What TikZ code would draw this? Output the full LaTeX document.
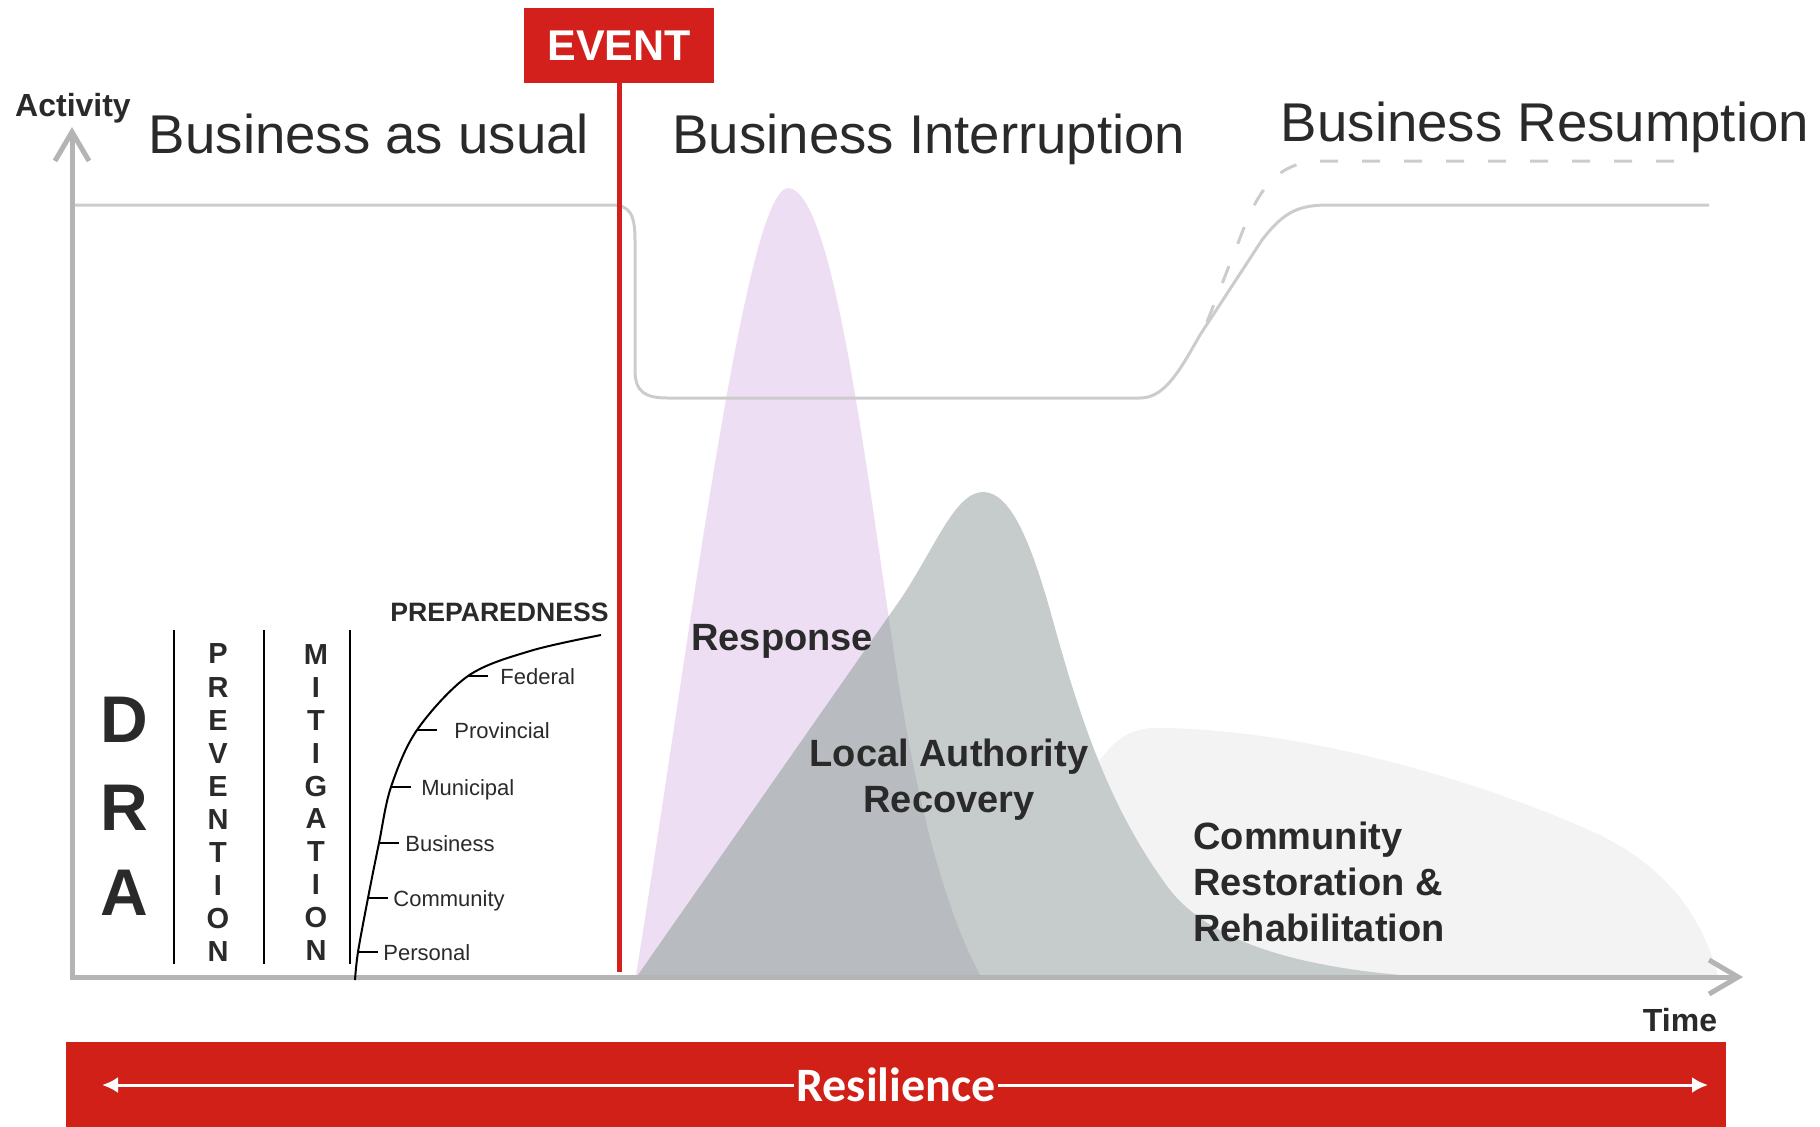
\documentclass[tikz,border=0pt]{standalone}
\usepackage{fontspec}
\setmainfont{Liberation Sans}
\newfontfamily\barfont{Carlito}
\usetikzlibrary{arrows.meta}

\definecolor{eventred}{RGB}{212,32,28}
\definecolor{barred}{RGB}{208,32,24}
\definecolor{axisgray}{RGB}{180,180,180}
\definecolor{linegray}{RGB}{204,204,204}
\definecolor{respink}{RGB}{238,222,243}
\definecolor{recgray}{RGB}{198,203,204}
\definecolor{overgray}{RGB}{184,188,193}
\definecolor{comgray}{RGB}{243,243,243}
\definecolor{textdark}{RGB}{42,42,42}

\tikzset{
  title/.style={font=\fontsize{27.3}{30}\selectfont, text=textdark, anchor=base, inner sep=0pt},
  phase/.style={font=\bfseries\fontsize{19}{23}\selectfont, text=textdark, inner sep=0pt},
  lvl/.style={font=\fontsize{11}{13}\selectfont, text=textdark, anchor=base west, inner sep=0pt},
  vletter/.style={font=\bfseries\fontsize{14.5}{15}\selectfont, text=textdark, inner sep=0pt},
  biglet/.style={font=\bfseries\fontsize{33}{33}\selectfont, text=textdark, inner sep=0pt},
  axis/.style={draw=axisgray, line width=2.5pt},
  busline/.style={draw=linegray, line width=1.5pt},
}

\newcommand\responsearea{(636,975) .. controls (690,640) and (745,190) .. (788,188)
  .. controls (830,190) and (860,420) .. (892,640)
  .. controls (912,780) and (940,900) .. (980,975) -- cycle}
\newcommand\recoveryarea{(638,975) -- (900,600) .. controls (935,548) and (955,492) .. (983,492)
  .. controls (1010,492) and (1030,540) .. (1050,610)
  .. controls (1080,720) and (1110,810) .. (1170,890)
  .. controls (1210,940) and (1290,965) .. (1400,975) -- cycle}

\begin{document}
\begin{tikzpicture}[x=0.5pt,y=-0.5pt]
\useasboundingbox (0,0) rectangle (1820,1126);
\coordinate (origin) at (72,977);
\coordinate (ytop) at (72,127);
\coordinate (xend) at (1743,977);
\coordinate (evbase) at (619,972);

%% phases
\fill[comgray] (1040,975) -- (1060,850) .. controls (1090,760) and (1115,728) .. (1155,728)
  .. controls (1300,728) and (1480,780) .. (1600,835)
  .. controls (1680,875) and (1705,930) .. (1718,975) -- cycle;
\fill[respink] \responsearea;
\fill[recgray] \recoveryarea;
\begin{scope}
\clip \responsearea;
\fill[overgray] \recoveryarea;
\end{scope}

%% business lines
\draw[busline] (72,205) -- (612,205) .. controls (630,205) and (635,215) .. (635,240) -- (635,370)
  .. controls (635,392) and (645,398) .. (668,398) -- (1140,398)
  .. controls (1165,398) and (1180,370) .. (1200,335) -- (1262,240)
  .. controls (1285,210) and (1300,205) .. (1330,205) -- (1709,205);
\draw[busline, dash pattern=on 9pt off 12pt] (1207,322) -- (1240,238)
  .. controls (1258,190) and (1275,165) .. (1315,161) -- (1696,161); %%dashed

%% axes
\draw[axis, {Straight Barb[length=14.5pt,width=17pt]}-{Straight Barb[length=14.5pt,width=17pt]}] (ytop) -- (origin) -- (xend);
\node[font=\bfseries\fontsize{16}{16}\selectfont, text=textdark, anchor=base] (activity) at (73,116) {Activity};
\node[font=\bfseries\fontsize{16}{16}\selectfont, text=textdark] (time) at (1680,1020) {Time};

%% event
\node[fill=eventred, text=white, font=\bfseries\fontsize{21.5}{22}\selectfont, minimum width=95pt, minimum height=37.5pt, inner sep=0pt] (event) at (619,45.5) {EVENT};
\draw[eventred, line width=2.5pt] (event.south) -- (evbase);

\node[title] (bau) at (369,153) {Business as usual};
\node[title] (bint) at (929,153) {Business Interruption};
\node[title] (bres) at (1545,141) {Business Resumption};

\node[phase, anchor=base west] (resp) at (691,650) {Response};
\node[phase, align=center] (lar) at (949,780) {Local Authority\\Recovery};
\node[phase, align=left, anchor=west] (crr) at (1193,882) {Community\\Restoration \&\\Rehabilitation};

%% DRA
\node[biglet] (d) at (124,720) {D};
\node[biglet] (r) at (124,808) {R};
\node[biglet] (a) at (124,893) {A};
\foreach \sx in {174,264,350}
  \draw[line width=1pt] (\sx,630) -- (\sx,964);
\foreach \c [count=\i] in {P,R,E,V,E,N,T,I,O,N}
  \node[vletter] (prev\i) at (218,{654+(\i-1)*33.1}) {\c};
\foreach \c [count=\i] in {M,I,T,I,G,A,T,I,O,N}
  \node[vletter] (mit\i) at (316,{655+(\i-1)*32.8}) {\c};

%% preparedness
\node[font=\bfseries\fontsize{13.3}{14}\selectfont, text=textdark, anchor=base east, inner sep=0pt] (prep) at (609,621) {PREPAREDNESS};
\draw[line width=1pt] plot[smooth, tension=0.55] coordinates {(355,980) (358,952) (368,898) (379,843) (391,787) (417,730) (468,676) (530,651) (601,635)};
\foreach \lx/\ly/\tx/\lab in {358/952/383/Personal, 368/898/393/Community, 379/843/405/Business, 391/787/421/Municipal, 417/730/454/Provincial, 468/676/500/Federal}{
  \coordinate (p-\lab) at (\lx,\ly);
  \draw[line width=1pt] (p-\lab) -- ++(20,0);
  \node[lvl, yshift=-4pt] (l-\lab) at (\tx,\ly) {\lab};
}

%% resilience bar
\fill[barred] (66,1042) rectangle (1726,1130);
\coordinate (rl) at (102,1085);
\coordinate (rr) at (1708,1085);
\draw[white, line width=1.5pt, {Latex[length=8pt,width=8pt]}-{Latex[length=8pt,width=8pt]}] (rl) -- (rr);
\node[fill=barred, text=white, font=\barfont\bfseries\fontsize{24}{24}\selectfont, inner sep=1pt] (res) at (896,1085) {Resilience};
\end{tikzpicture}
\end{document}
